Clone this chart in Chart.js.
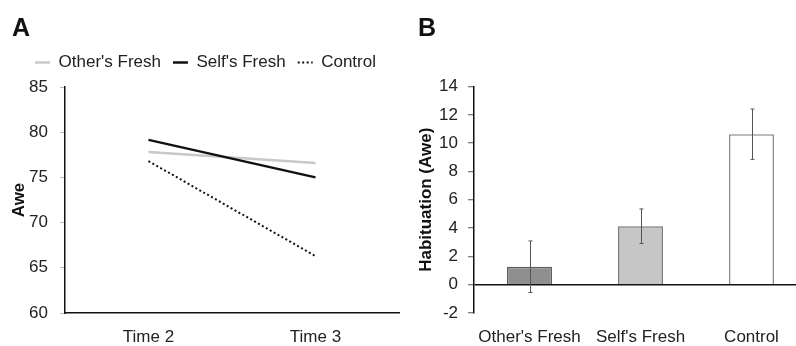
<!DOCTYPE html>
<html>
<head>
<meta charset="utf-8">
<script src="https://cdn.jsdelivr.net/npm/chart.js@4.4.1/dist/chart.umd.min.js"></script>
<style>
  html, body { margin: 0; padding: 0; background: #fff; overflow: hidden; width: 796px; height: 346px; }
  #lineChart { position: absolute; left: 0; top: 0; }
  #barChart { position: absolute; left: 405px; top: 0; }
</style>
</head>
<body>
<canvas id="lineChart" width="400" height="346"></canvas>
<canvas id="barChart" width="402" height="346"></canvas>
<script>
// panel A
const times = ['Time 2', 'Time 3'];
const othersFresh = [77.8, 76.6];
const selfsFresh = [79.15, 75.0];
const control = [76.8, 66.3];
const aweTicks = [60, 65, 70, 75, 80, 85];

// panel B
const conditions = ["Other's Fresh", "Self's Fresh", 'Control'];
const habituation = [1.27, 4.13, 10.63];
const habituationErr = [1.82, 1.22, 1.78];
const habituationTicks = [-2, 0, 2, 4, 6, 8, 10, 12, 14];

Chart.defaults.font.family = "'Liberation Sans', Arial, sans-serif";
Chart.defaults.font.size = 17;
Chart.defaults.color = '#222';

// push the plot area down a bit under the legend
const legendGap = {
    id: 'legendGap',
    beforeInit(chart) {
        const fit = chart.legend.fit;
        chart.legend.fit = function () {
            fit.bind(chart.legend)();
            this.height += 6;
        };
    }
};

const LINECHART = document.getElementById('lineChart');

let lineChart = new Chart(LINECHART, {
    type: 'line',
    data: {
        labels: times,
        datasets: [{
            label: "Other's Fresh",
            data: othersFresh,
            borderColor: '#c8c8c8',
            backgroundColor: '#c8c8c8',
            borderWidth: 2.5,
            order: 1
        }, {
            label: "Self's Fresh",
            data: selfsFresh,
            borderColor: '#111',
            backgroundColor: '#111',
            borderWidth: 2.5,
            order: 0
        }, {
            label: 'Control',
            data: control,
            borderColor: '#111',
            backgroundColor: '#111',
            borderWidth: 2,
            borderDash: [2, 2.5],
            order: 2
        }]
    },
    options: {
        responsive: false,
        animation: false,
        elements: { point: { radius: 0 }, line: { tension: 0 } },
        layout: { padding: { left: 12, right: 1, top: 0, bottom: 0 } },
        plugins: {
            tooltip: { enabled: false },
            title: {
                display: true,
                text: 'A',
                align: 'start',
                color: '#111',
                font: { size: 25, weight: 'bold', lineHeight: 1 },
                padding: { top: 17, bottom: 0 }
            },
            legend: {
                display: true,
                labels: {
                    usePointStyle: true,
                    pointStyle: 'line',
                    pointStyleWidth: 15,
                    boxWidth: 15,
                    padding: 12,
                    color: '#222',
                    sort: function (a, b) { return a.datasetIndex - b.datasetIndex; },
                    // legend samples use the line style of each dataset (dash included)
                    generateLabels: function (chart) {
                        const items = Chart.defaults.plugins.legend.labels.generateLabels(chart);
                        items.forEach(function (item) {
                            const ds = chart.data.datasets[item.datasetIndex];
                            item.strokeStyle = ds.borderColor;
                            item.lineWidth = ds.borderWidth;
                            item.lineDash = ds.borderDash || [];
                        });
                        return items;
                    }
                }
            }
        },
        scales: {
            x: {
                offset: true,
                grid: { display: false, drawTicks: false, offset: true },
                border: { display: true, color: '#111', width: 1.5 },
                ticks: { padding: 14 },
                afterFit: function (scale) { scale.height = 33; }
            },
            y: {
                min: 60,
                max: 85,
                afterBuildTicks: function (scale) {
                    scale.ticks = aweTicks.map(v => ({ value: v }));
                },
                grid: { drawOnChartArea: false, drawTicks: true, tickLength: 5, tickColor: '#bbb' },
                border: { display: true, color: '#111', width: 1.5 },
                ticks: { padding: 12 },
                title: {
                    display: true,
                    text: 'Awe',
                    color: '#111',
                    font: { size: 17, weight: 'bold', lineHeight: 1 },
                    padding: { top: -1, bottom: 0 }
                },
                afterFit: function (scale) { scale.width = 53; }
            }
        }
    },
    plugins: [legendGap]
});

// error bars drawn on top of the bars, from the scales
const errorBars = {
    id: 'errorBars',
    afterDatasetsDraw(chart) {
        const ctx = chart.ctx;
        const xs = chart.scales.x;
        const ys = chart.scales.y;
        ctx.save();
        ctx.strokeStyle = '#555';
        ctx.lineWidth = 1;
        habituation.forEach(function (v, i) {
            const x = Math.round(xs.getPixelForValue(i)) + 0.5;
            const yTop = ys.getPixelForValue(v + habituationErr[i]);
            const yBot = ys.getPixelForValue(v - habituationErr[i]);
            ctx.beginPath();
            ctx.moveTo(x, yTop);
            ctx.lineTo(x, yBot);
            ctx.moveTo(x - 2, yTop);
            ctx.lineTo(x + 2, yTop);
            ctx.moveTo(x - 2, yBot);
            ctx.lineTo(x + 2, yBot);
            ctx.stroke();
        });
        ctx.restore();
    }
};

const BARCHART = document.getElementById('barChart');

let barChart = new Chart(BARCHART, {
    type: 'bar',
    data: {
        labels: conditions,
        datasets: [{
            label: 'Habituation (Awe)',
            data: habituation,
            backgroundColor: ['#8f8f8f', '#c6c6c6', '#ffffff'],
            borderColor: ['#5c5c5c', '#777777', '#888888'],
            borderWidth: 1.5,
            barPercentage: 0.405,
            categoryPercentage: 1
        }]
    },
    options: {
        responsive: false,
        animation: false,
        layout: { padding: { left: 13, right: 0, top: 0, bottom: 0 } },
        plugins: {
            tooltip: { enabled: false },
            legend: { display: false },
            title: {
                display: true,
                text: 'B',
                align: 'start',
                color: '#111',
                font: { size: 25, weight: 'bold', lineHeight: 1 },
                padding: { top: 17, bottom: 44.5 }
            }
        },
        scales: {
            x: {
                grid: { display: false, drawTicks: false },
                border: { display: false },
                ticks: { padding: 14 },
                afterFit: function (scale) { scale.height = 33; }
            },
            y: {
                min: -2,
                max: 14,
                afterBuildTicks: function (scale) {
                    scale.ticks = habituationTicks.map(v => ({ value: v }));
                },
                grid: {
                    drawOnChartArea: true,
                    drawTicks: true,
                    tickLength: 6,
                    tickColor: '#555',
                    tickWidth: 1,
                    color: function (c) { return c.tick && c.tick.value === 0 ? '#111' : 'rgba(0,0,0,0)'; },
                    lineWidth: 1.5
                },
                border: { display: true, color: '#111', width: 1.5 },
                ticks: { padding: 10 },
                title: {
                    display: true,
                    text: 'Habituation (Awe)',
                    color: '#111',
                    font: { size: 17, weight: 'bold', lineHeight: 1 },
                    padding: { top: 0, bottom: 0 }
                },
                afterFit: function (scale) { scale.width = 56; }
            }
        }
    },
    plugins: [errorBars]
});
</script>
</body>
</html>
